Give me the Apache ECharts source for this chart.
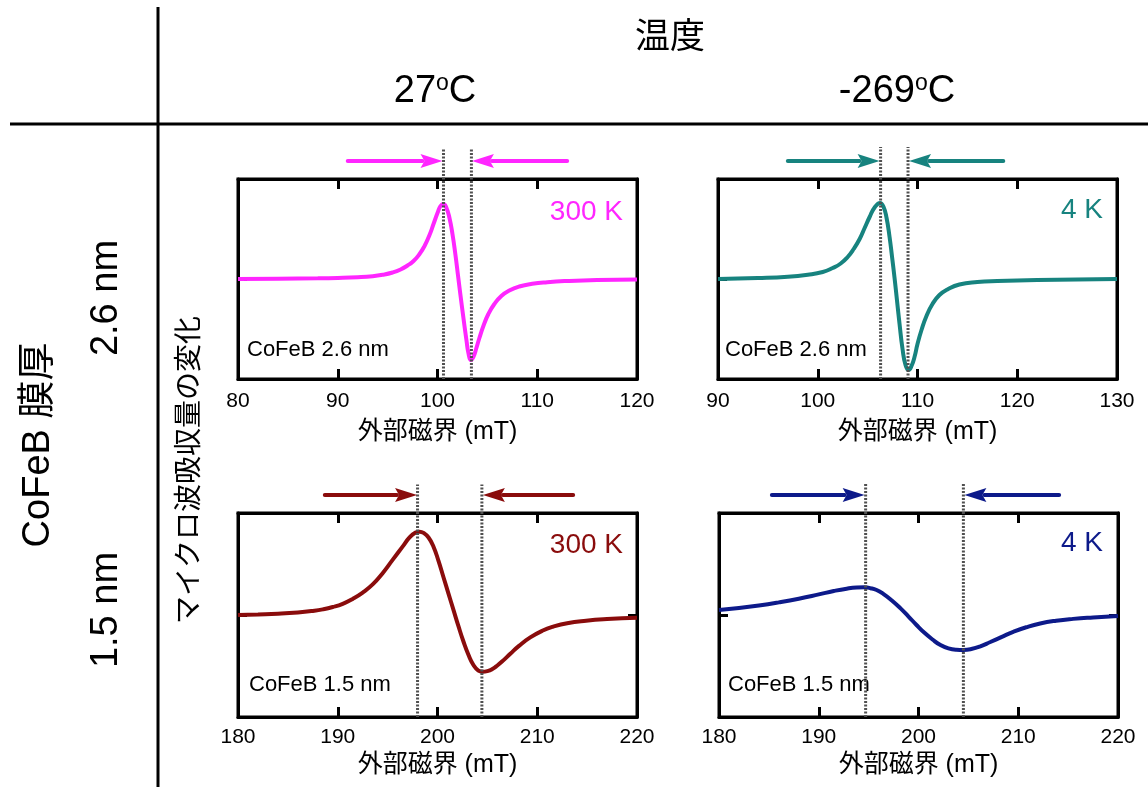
<!DOCTYPE html>
<html>
<head>
<meta charset="utf-8">
<script src="https://cdn.jsdelivr.net/npm/echarts@6/dist/echarts.min.js"></script>
<style>html,body{margin:0;padding:0;background:#fff;}#c{width:1148px;height:787px;}</style>
</head>
<body>
<div id="c"></div>
<script>
// ---- data (x: 外部磁界 mT, y: マイクロ波吸収量の変化, arbitrary units) ----
const panelRanges = [[80, 120], [90, 130], [180, 220], [180, 220]];
const xTicksInterval = 10;
const panelTemps = ['300 K', '4 K', '300 K', '4 K'];
const panelSamples = ['CoFeB 2.6 nm', 'CoFeB 2.6 nm', 'CoFeB 1.5 nm', 'CoFeB 1.5 nm'];
const colTitles = ['27', '-269'];
const rowTitles = ['2.6 nm', '1.5 nm'];

const curve26_300K = [[80,0],[84,0.3],[88,0.7],[90,1.1],[92,1.8],[93.5,2.8],[94.5,4.2],[95.5,6.5],[96.3,9.5],[97,13.5],[97.6,18],[98.2,25],[98.7,33],[99.2,44],[99.6,55],[100,66],[100.3,73],[100.6,75],[100.9,71],[101.2,61],[101.5,45],[101.8,24],[102.05,4],[102.3,-16],[102.6,-39],[102.9,-61],[103.1,-74],[103.35,-81],[103.6,-78],[103.9,-69],[104.2,-59],[104.6,-47],[105.1,-35],[105.7,-25],[106.4,-17],[107.2,-11.5],[108.2,-7.5],[109.5,-4.8],[111,-3.2],[113,-2],[116,-1],[120,-0.5]];
const curve26_4K = [[90,0],[94,1],[97,2.3],[99,4.3],[100.5,7],[101.5,11],[102.3,15.5],[103,22],[103.6,30],[104.2,40],[104.7,51],[105.2,62],[105.7,71.5],[106.25,76],[106.6,72],[106.9,61],[107.2,42],[107.45,22],[107.7,1],[107.95,-22],[108.2,-45],[108.5,-70],[108.8,-86],[109.1,-91],[109.4,-87],[109.7,-78],[110,-65],[110.4,-51],[110.9,-37],[111.5,-25],[112.2,-16],[113,-10.5],[114.2,-5.5],[116,-3],[118,-2],[122,-1],[130,0]];
const curve15_300K = [[180,0],[182,0.6],[184,1.3],[186,2.5],[187.5,4],[188.5,5.5],[189.5,7.8],[190.5,11],[191.5,15.8],[192.5,22],[193.5,30],[194.5,41],[195.5,54],[196.5,67],[197.2,76],[197.8,80.8],[198.2,81.7],[198.6,80.5],[199.1,76],[199.6,67],[200.1,53],[200.6,37],[201.1,21],[201.6,5],[202.1,-11],[202.6,-26],[203.1,-39],[203.6,-49],[204.1,-54.5],[204.5,-55.6],[205,-55],[205.5,-53],[206,-49.5],[206.6,-44.5],[207.3,-38],[208.2,-30],[209.3,-22],[210.5,-15.5],[211.6,-11.4],[213,-8],[214.9,-5.6],[217,-4],[220,-2.6]];
const curve15_4K = [[180,4.9],[182,6.8],[184,9.3],[186,12.4],[188,16],[190,20.2],[191.5,23.5],[192.8,25.8],[193.8,26.9],[194.6,27.1],[195.2,26.3],[195.8,24.5],[196.5,20.5],[197.3,14.5],[198.2,6.5],[199,-1.5],[199.8,-9.8],[200.6,-17.5],[201.4,-24],[202.2,-29.5],[203,-32.8],[203.8,-34.1],[204.5,-34.3],[205.3,-33.4],[206.2,-30.8],[207.2,-26.5],[208.3,-21.7],[209.5,-16.5],[210.8,-12],[212.2,-8.3],[213.8,-5.6],[215.5,-3.8],[217.5,-2.4],[220,-1]];

// arrows: [tail x, tip x, level]
const arrows26_300K = [[91.0,100.5,118],[113.0,103.45,118]];
const arrows26_4K = [[97.0,106.2,118],[118.6,109.15,118]];
const arrows15_300K = [[188.7,197.95,117.6],[213.6,204.55,117.6]];
const arrows15_4K = [[185.3,194.6,117.6],[214.1,204.6,117.6]];
// dotted guide lines: [x, bottom, top]
const guides26_300K = [[100.6,-100,131],[103.4,-100,131]];
const guides26_4K = [[106.3,-100,132],[109.05,-100,132]];
const guides15_300K = [[198.0,-100,128],[204.45,-100,128]];
const guides15_4K = [[194.7,-100,129],[204.5,-100,129]];

const curves = [curve26_300K, curve26_4K, curve15_300K, curve15_4K];
const arrowsAll = [arrows26_300K, arrows26_4K, arrows15_300K, arrows15_4K];
const guidesAll = [guides26_300K, guides26_4K, guides15_300K, guides15_4K];
const colors = ['#ff26ff', '#17837f', '#8a0c0c', '#0d1a8a'];

// ---- layout ----
const FONT = "'Liberation Sans', 'Noto Sans CJK JP', sans-serif";
const grids = [
  {left: 238, top: 179, width: 399, height: 200},
  {left: 718, top: 179, width: 399, height: 200},
  {left: 238, top: 513, width: 399, height: 204},
  {left: 719, top: 513, width: 399, height: 204}
];
const labelMargin = [12, 12, 10, 10];
const nameGaps = [41, 41, 36, 36];

const xAxes = [], yAxes = [], series = [];
grids.forEach((g, i) => {
  const base = {
    type: 'value', gridIndex: i, min: panelRanges[i][0], max: panelRanges[i][1], interval: xTicksInterval,
    axisLine: {show: true, onZero: false, lineStyle: {color: '#000', width: 3}},
    axisTick: {show: true, inside: true, length: 10, lineStyle: {color: '#000', width: 3}},
    splitLine: {show: false}
  };
  xAxes.push(Object.assign({}, base, {
    position: 'bottom',
    axisLabel: {show: true, color: '#000', fontSize: 21, fontFamily: FONT, margin: labelMargin[i], showMinLabel: true, showMaxLabel: true},
    name: '外部磁界 (mT)', nameLocation: 'middle', nameGap: nameGaps[i],
    nameTextStyle: {color: '#000', fontSize: 25, fontFamily: FONT}
  }));
  xAxes.push(Object.assign({}, base, {position: 'top', axisLabel: {show: false}}));
  const ybase = {
    type: 'value', gridIndex: i, min: -100, max: 100, interval: 100,
    axisLine: {show: true, onZero: false, lineStyle: {color: '#000', width: 3}},
    axisTick: {show: true, inside: true, length: 9, lineStyle: {color: '#000', width: 3}},
    axisLabel: {show: false}, splitLine: {show: false}
  };
  yAxes.push(Object.assign({}, ybase, {position: 'left'}));
  yAxes.push(Object.assign({}, ybase, {position: 'right'}));

  series.push({
    type: 'line', xAxisIndex: 2 * i, yAxisIndex: 2 * i, data: curves[i],
    smooth: 0.5, showSymbol: false, symbol: 'none',
    lineStyle: {color: colors[i], width: 4}, itemStyle: {color: colors[i]}, z: 3
  });
  series.push({
    type: 'custom', xAxisIndex: 2 * i, yAxisIndex: 2 * i, data: guidesAll[i], clip: false, z: 4,
    encode: {x: 0, y: [1, 2]},
    renderItem: function (params, api) {
      const a = api.coord([api.value(0), api.value(1)]);
      const b = api.coord([api.value(0), api.value(2)]);
      return {type: 'line', shape: {x1: a[0], y1: a[1], x2: b[0], y2: b[1]},
        style: {stroke: '#505050', lineWidth: 3, lineDash: [2, 1.5]}};
    }
  });
  const col = colors[i];
  series.push({
    type: 'custom', xAxisIndex: 2 * i, yAxisIndex: 2 * i, data: arrowsAll[i], clip: false, z: 4,
    encode: {x: [0, 1], y: 2},
    renderItem: function (params, api) {
      const p0 = api.coord([api.value(0), api.value(2)]);
      const p1 = api.coord([api.value(1), api.value(2)]);
      const dir = p1[0] > p0[0] ? 1 : -1;
      const hl = 22, hw = 7;
      const bx = p1[0] - dir * hl;
      return {type: 'group', children: [
        {type: 'line', shape: {x1: p0[0], y1: p0[1], x2: bx + dir * 2, y2: p0[1]},
          style: {stroke: col, lineWidth: 4, lineCap: 'round'}},
        {type: 'polygon', shape: {points: [[p1[0], p1[1]], [bx, p1[1] - hw], [bx + dir * 4, p1[1]], [bx, p1[1] + hw]]},
          style: {fill: col}}
      ]};
    }
  });
});

const txt = (x, y, text, size, opts) => Object.assign({
  type: 'text', x: x, y: y, silent: true,
  style: Object.assign({text: text, x: 0, y: 0, fill: '#000', fontSize: size, fontFamily: FONT, align: 'center', verticalAlign: 'middle'}, (opts && opts.style) || {})
}, opts && opts.rotation ? {rotation: opts.rotation} : {});

const degText = (x, y, num) => ({
  type: 'text', x: x, y: y, silent: true,
  style: {
    text: '{a|' + num + '}{s|o}{a|C}', x: 0, y: 0, align: 'center', verticalAlign: 'middle',
    rich: {
      a: {fontSize: 38, fontFamily: FONT, fill: '#000', color: '#000', lineHeight: 40},
      s: {fontSize: 23, fontFamily: FONT, fill: '#000', color: '#000', verticalAlign: 'top', lineHeight: 24}
    }
  }
});

const textPos = [
  {temp: [623, 212], samp: [247, 350]},
  {temp: [1103, 210], samp: [725, 350]},
  {temp: [623, 545], samp: [249, 685]},
  {temp: [1103, 543], samp: [728, 685]}
];
const graphics = [
  {type: 'line', silent: true, shape: {x1: 158, y1: 7, x2: 158, y2: 787}, style: {stroke: '#000', lineWidth: 3}},
  {type: 'line', silent: true, shape: {x1: 10, y1: 124, x2: 1148, y2: 124}, style: {stroke: '#000', lineWidth: 3}},
  txt(670, 38, '温度', 35),
  degText(435, 92, colTitles[0]),
  degText(897, 92, colTitles[1]),
  txt(39, 445, 'CoFeB 膜厚', 38, {rotation: Math.PI / 2}),
  txt(107, 298, rowTitles[0], 38, {rotation: Math.PI / 2}),
  txt(107, 610, rowTitles[1], 38, {rotation: Math.PI / 2}),
  txt(190, 470, 'マイクロ波吸収量の変化', 28, {rotation: Math.PI / 2})
];
textPos.forEach((p, i) => {
  graphics.push(txt(p.temp[0], p.temp[1], panelTemps[i], 28, {style: {fill: colors[i], align: 'right'}}));
  graphics.push(txt(p.samp[0], p.samp[1], panelSamples[i], 22, {style: {align: 'left'}}));
});

const chart = echarts.init(document.getElementById('c'), null, {renderer: 'canvas'});
chart.setOption({
  animation: false,
  backgroundColor: '#fff',
  textStyle: {fontFamily: FONT},
  grid: grids.map(g => Object.assign({show: true, borderColor: '#000', borderWidth: 3, backgroundColor: 'transparent', containLabel: false, outerBoundsMode: 'none'}, g)),
  xAxis: xAxes,
  yAxis: yAxes,
  series: series,
  graphic: {elements: graphics}
});
</script>
</body>
</html>
